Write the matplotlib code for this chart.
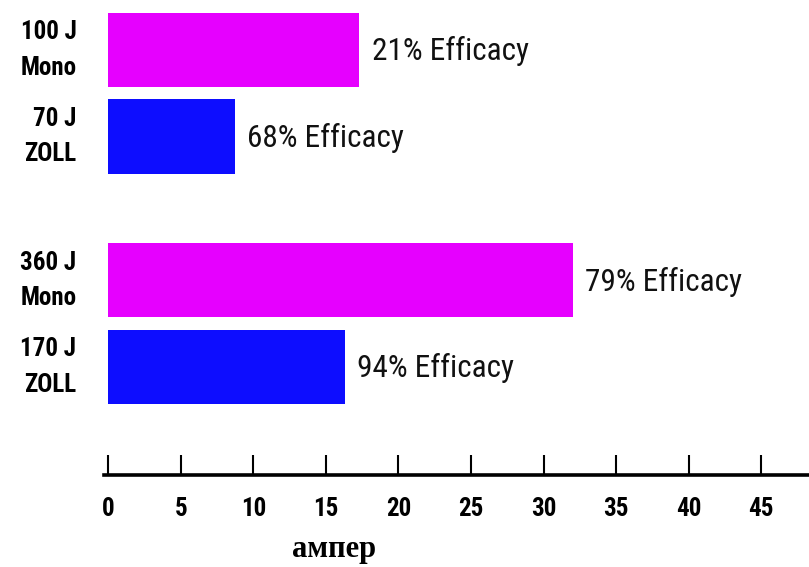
import matplotlib

matplotlib.use("Agg")
import matplotlib.pyplot as plt

# data
labels = ["100 J\nMono", "70 J\nZOLL", "360 J\nMono", "170 J\nZOLL"]
amps = [17.3, 8.7, 32.0, 16.3]
efficacy = ["21% Efficacy", "68% Efficacy", "79% Efficacy", "94% Efficacy"]
positions = [0.0, 1.0, 2.66, 3.66]
colors = ["#E600FF", "#0D0DFF", "#E600FF", "#0D0DFF"]
xticks = [0, 5, 10, 15, 20, 25, 30, 35, 40, 45]

NARROW = ["Roboto Condensed", "DejaVu Sans"]

fig = plt.figure(figsize=(8.09, 5.67), dpi=100)
ax = fig.add_axes([104 / 809, 92 / 567, 1 - 104 / 809, 475 / 567])

ax.barh(positions, amps, height=0.855, color=colors, edgecolor="none")
for y, v, txt in zip(positions, amps, efficacy):
    ax.annotate(txt, (v, y), xytext=(9, -1), textcoords="offset points",
                va="center", ha="left", fontsize=22.5, family=NARROW, color="#111111")

ax.set_xlim(-0.3, 48.3)
ax.set_ylim(4.905, -0.575)

for side in ["top", "right", "left"]:
    ax.spines[side].set_visible(False)
ax.spines["bottom"].set_linewidth(2.6)

ax.set_xticks(xticks)
ax.set_xticklabels([str(t) for t in xticks], fontsize=18, fontweight="bold", family=NARROW)
ax.tick_params(axis="x", direction="in", length=14.5, width=1.5, pad=16)
ax.set_yticks([])

for y, lab in zip(positions, labels):
    ax.text(-0.3 - 1.9, y, lab, ha="right", va="center", fontsize=18,
            fontweight="bold", family=NARROW, linespacing=1.6, clip_on=False)

fig.text(334 / 809, 1 - 550 / 567, "ампер", ha="center", va="center",
         fontsize=22, fontweight="bold", family=["Liberation Serif", "DejaVu Serif"])

fig.savefig("out.png", dpi=100)
plt.close(fig)
